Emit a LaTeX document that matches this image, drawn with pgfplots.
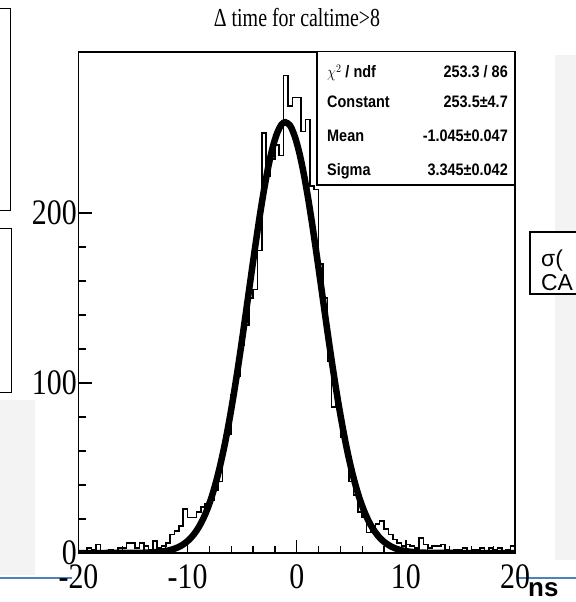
\documentclass[border=0pt]{standalone}
\usepackage{fontspec}
\setmainfont{Liberation Serif}
\newfontfamily\helv{Liberation Sans}
\usepackage{graphicx}
\usepackage{pgfplots}
\pgfplotsset{compat=1.18}
\definecolor{slideblue}{HTML}{4F81BD}
\definecolor{slidegray}{HTML}{F3F3F3}
\newcommand{\tl}[1]{\scalebox{1}[1.2]{#1}}
\begin{document}
\begin{tikzpicture}
\path[use as bounding box] (0bp,0bp) rectangle (576bp,602bp);
\begin{scope}[x=1bp,y=1bp]
\clip (0,0) rectangle (576,602);
% slide background pieces around the chart
\fill[slidegray] (555,42) rectangle (576,547);
\fill[slidegray] (0,27) rectangle (35,202);
\draw[slideblue, line width=1.2bp] (0,24) -- (72,24);
\draw[slideblue, line width=1.2bp] (518,24) -- (576,24);
\draw[line width=0.8bp] (-2,594) -- (10,594) -- (10,392) -- (-2,392);
\draw[line width=0.8bp] (-2,374) -- (11,374) -- (11,210) -- (-2,210);
\draw[line width=1.8bp, fill=white] (580,370) -- (530,370) -- (530,308) -- (580,308);
\node[anchor=base west, inner sep=0pt, font=\helv\fontsize{23}{23}\selectfont] at (541,336) {σ(};
\node[anchor=base west, inner sep=0pt, font=\helv\fontsize{23}{23}\selectfont] at (541,312) {CA};
\node[anchor=base west, inner sep=0pt, font=\helv\bfseries\fontsize{26}{26}\selectfont] at (528,6) {ns};
\node[font=\fontsize{20}{20}\selectfont, inner sep=0pt] at (297,584) {\scalebox{1}[1.3]{Δ time for caltime>8}};
\end{scope}
\begin{axis}[
  at={(78.5bp,49bp)}, anchor=south west, scale only axis,
  width=436.5bp, height=501.3bp,
  xmin=-20, xmax=20, ymin=0, ymax=295,
  xtick={-20,-10,0,10,20}, xticklabels={\tl{-20},\tl{-10},\tl{0},\tl{10},\tl{20}},
  ytick={0,100,200}, yticklabels={\tl{0},\tl{100},\tl{200}},
  minor x tick num=4, minor y tick num=4,
  tick pos=left, tick align=inside,
  major tick length=13bp, minor tick length=7bp,
  tick style={line width=1.3bp, black},
  axis line style={line width=1.7bp},
  xticklabel style={font=\fontsize{30}{30}\selectfont, inner sep=1bp, yshift=-10bp},
  yticklabel style={font=\fontsize{30}{30}\selectfont, inner sep=1.5bp},
  clip=true,
]
\addplot[const plot, line width=1.6bp, black] coordinates {
(-20.0,0) (-19.6,1) (-19.2,3) (-18.8,2) (-18.4,5) (-18.0,1) (-17.6,0) (-17.2,2) (-16.8,1) (-16.4,3)
(-16.0,3) (-15.6,6) (-15.2,6) (-14.8,3) (-14.4,6) (-14.0,4) (-13.6,2) (-13.2,7) (-12.8,3) (-12.4,4)
(-12.0,6) (-11.6,11) (-11.2,13) (-10.8,16) (-10.4,26) (-10.0,21) (-9.6,21) (-9.2,24) (-8.8,27) (-8.4,29)
(-8.0,31) (-7.6,37) (-7.2,42) (-6.8,65) (-6.4,70) (-6.0,93) (-5.6,104) (-5.2,122) (-4.8,134) (-4.4,150)
(-4.0,155) (-3.6,178) (-3.2,247) (-2.8,222) (-2.4,232) (-2.0,240) (-1.6,234) (-1.2,281) (-0.8,263) (-0.4,268)
(0.0,268) (0.4,248) (0.8,255) (1.2,216) (1.6,214) (2.0,170) (2.4,150) (2.8,113) (3.2,86) (3.6,88)
(4.0,68) (4.4,62) (4.8,42) (5.2,34) (5.6,24) (6.0,21) (6.4,12) (6.8,15) (7.2,17) (7.6,19)
(8.0,14) (8.4,11) (8.8,8) (9.2,6) (9.6,4) (10.0,5) (10.4,4) (10.8,3) (11.2,9) (11.6,5)
(12.0,3) (12.4,4) (12.8,4) (13.2,5) (13.6,2) (14.0,1) (14.4,2) (14.8,2) (15.2,3) (15.6,1)
(16.0,2) (16.4,2) (16.8,3) (17.2,1) (17.6,3) (18.0,2) (18.4,3) (18.8,1) (19.2,2) (19.6,4)
(20.0,4)
};
\addplot[smooth, line width=6.5bp, black] coordinates {
(-20,0) (-17,0.002) (-15,0.04) (-14,0.14) (-13,0.43) (-12.6,0.65) (-12.2,0.97) (-11.8,1.44) (-11.4,2.10)
(-11.0,3.02) (-10.6,4.28) (-10.2,5.99) (-9.8,8.25) (-9.4,11.2) (-9.0,15.0) (-8.6,19.8) (-8.2,25.7)
(-7.8,33.0) (-7.4,41.7) (-7.0,52.0) (-6.6,63.8) (-6.2,77.3) (-5.8,92.3) (-5.4,108.6) (-5.0,126.0)
(-4.6,144.1) (-4.2,162.5) (-3.8,180.6) (-3.4,197.9) (-3.0,213.7) (-2.6,227.5) (-2.2,238.8) (-1.8,247.1)
(-1.4,252.1) (-1.045,253.5) (-0.6,251.4) (-0.2,245.5) (0.2,236.5) (0.6,224.6) (1.0,210.3) (1.4,194.1)
(1.8,176.6) (2.2,158.4) (2.6,140.0) (3.0,122.0) (3.4,104.8) (3.8,88.8) (4.2,74.2) (4.6,61.0)
(5.0,49.5) (5.4,39.6) (5.8,31.2) (6.2,24.3) (6.6,18.6) (7.0,14.1) (7.4,10.5) (7.8,7.7) (8.2,5.6)
(8.6,4.0) (9.0,2.8) (9.4,1.9) (9.8,1.3) (10.2,0.89) (10.6,0.58) (11.0,0.37) (12.0,0.11) (13,0.03)
(15,0.0) (20,0)
};
\end{axis}
% fit statistics box
\begin{scope}[x=1bp,y=1bp]
\draw[line width=1.5bp, fill=white] (317,417) rectangle (515,550.3);
\begin{scope}[every node/.style={inner sep=0pt, font=\helv\bfseries\fontsize{14.5}{14.5}\selectfont}]
\node[anchor=base west] at (327,524) {\scalebox{1}[1.15]{$\chi^{2}$ / ndf}};
\node[anchor=base east] at (508,524) {\scalebox{1}[1.15]{253.3 / 86}};
\node[anchor=base west] at (327,494) {\scalebox{1}[1.15]{Constant}};
\node[anchor=base east] at (508,494) {\scalebox{1}[1.15]{253.5±4.7}};
\node[anchor=base west] at (327,460) {\scalebox{1}[1.15]{Mean}};
\node[anchor=base east] at (508,460) {\scalebox{1}[1.15]{-1.045±0.047}};
\node[anchor=base west] at (327,426) {\scalebox{1}[1.15]{Sigma}};
\node[anchor=base east] at (508,426) {\scalebox{1}[1.15]{3.345±0.042}};
\end{scope}
\end{scope}
\end{tikzpicture}
\end{document}
